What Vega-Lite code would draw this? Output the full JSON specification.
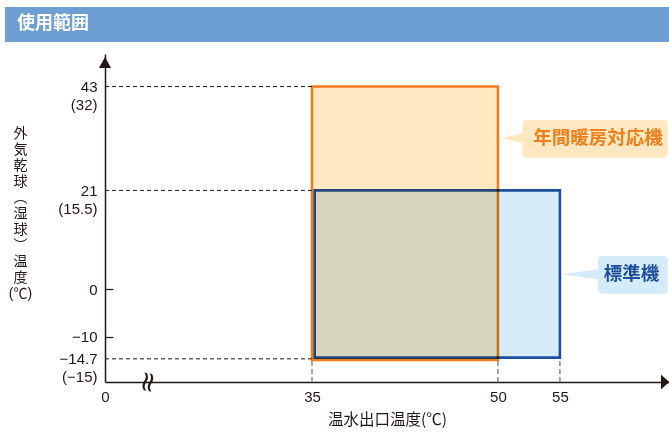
{
  "$schema": "https://vega.github.io/schema/vega-lite/v6.json",
  "padding": {"left": 5, "top": 6, "right": 0, "bottom": 0},
  "background": "white",
  "width": 564,
  "height": 328,
  "config": {
    "font": "Noto Sans CJK JP",
    "view": {"stroke": null}
  },
  "datasets": {
    "header": [
      {"title": "使用範囲", "x1": -16.9, "x2": 63.8, "y1": 52.45, "y2": 59.87, "tx": -14.88, "ty": 56.16}
    ],
    "ranges": [
      {"machine": "年間暖房対応機", "xmin": 35, "xmax": 50, "ymin": -14.7, "ymax": 43},
      {"machine": "標準機", "xmin": 35, "xmax": 55, "ymin": -14.7, "ymax": 21}
    ],
    "hlines": [
      {"y": 43, "x_from": 0, "x_to": 35},
      {"y": 21, "x_from": 0, "x_to": 35},
      {"y": -14.7, "x_from": 0, "x_to": 35}
    ],
    "vlines": [
      {"x": 35, "y_from": -19.6, "y_to": -14.7},
      {"x": 50, "y_from": -19.6, "y_to": -14.7},
      {"x": 55, "y_from": -19.6, "y_to": -14.7}
    ],
    "callouts": [
      {"label": "年間暖房対応機", "x1": 52.0, "x2": 63.7, "y1": 27.9, "y2": 35.9, "tx": 58.07, "ty": 32.0, "px": 51.13, "py": 32.06},
      {"label": "標準機", "x1": 58.07, "x2": 63.7, "y1": -0.9, "y2": 7.1, "tx": 60.77, "ty": 3.3, "px": 56.61, "py": 3.22}
    ],
    "arrows": [
      {"axis": "y", "x": 0, "y": 48.1},
      {"axis": "x", "x": 63.48, "y": -19.6}
    ],
    "breaks": [
      {"sym": "≈", "x": 7.1, "y": -19.6}
    ]
  },
  "layer": [
    {
      "data": {"name": "ranges"},
      "transform": [{"filter": "datum.machine == '年間暖房対応機'"}],
      "mark": {"type": "rect", "fill": "#fee8c2", "stroke": "#ef7d1b", "strokeWidth": 2.6, "yOffset": 1},
      "encoding": {
        "x": {
          "field": "xmin", "type": "quantitative",
          "scale": {"domain": [0, 35, 63.8], "range": [0, 207, 564], "nice": false, "zero": false},
          "axis": {
            "values": [0, 35, 50, 55], "ticks": false, "grid": false, "labelFlush": false,
            "labelPadding": 7, "labelFont": "Liberation Sans", "labelFontSize": 15, "labelColor": "#231815", "format": "d",
            "title": "温水出口温度(℃)", "titleFontSize": 15.5, "titleFontWeight": "normal", "titleColor": "#231815", "titlePadding": 8,
            "domainColor": "#231815", "domainWidth": 1.5
          }
        },
        "x2": {"field": "xmax"},
        "y": {
          "field": "ymin", "type": "quantitative",
          "scale": {"domain": [-19.6, 49.9], "nice": false, "zero": false},
          "axis": {
            "values": [43, 21, 0, -10, -14.7], "grid": false, "labelOverlap": false, "labelFlush": false,
            "labelExpr": "datum.value == 43 ? ['43', '(32)'] : datum.value == 21 ? ['21', '(15.5)'] : datum.value == -14.7 ? ['−14.7', '(−15)'] : datum.value == -10 ? '−10' : '0'",
            "labelFont": "Liberation Sans", "labelFontSize": 15, "labelColor": "#231815", "labelBaseline": "top", "labelOffset": -7, "labelLineHeight": 18,
            "labelPadding": 16, "tickSize": -8, "tickColor": "#231815", "tickWidth": 1.2,
            "tickOpacity": {"condition": {"test": "datum.value == 0 || datum.value == -10", "value": 1}, "value": 0},
            "domainColor": "#231815", "domainWidth": 1.5,
            "title": ["外", "気", "乾", "球", "︵", "湿", "球", "︶", "温", "度", "(℃)"],
            "titleAngle": 0, "titleAlign": "center", "titleBaseline": "top", "titleX": -85, "titleY": 72,
            "titleFont": "Liberation Sans, Noto Sans CJK JP",
            "titleFontSize": 14, "titleFontWeight": "normal", "titleColor": "#231815", "titleLineHeight": 16
          }
        },
        "y2": {"field": "ymax"}
      }
    },
    {
      "data": {"name": "header"},
      "mark": {"type": "rect", "fill": "#6d9fd5"},
      "encoding": {
        "x": {"field": "x1", "type": "quantitative"},
        "x2": {"field": "x2"},
        "y": {"field": "y1", "type": "quantitative"},
        "y2": {"field": "y2"}
      }
    },
    {
      "data": {"name": "header"},
      "mark": {"type": "text", "align": "left", "baseline": "middle", "fontSize": 18, "fontWeight": "bold", "color": "white"},
      "encoding": {
        "x": {"field": "tx", "type": "quantitative"},
        "y": {"field": "ty", "type": "quantitative"},
        "text": {"field": "title"}
      }
    },
    {
      "data": {"name": "ranges"},
      "transform": [{"filter": "datum.machine == '標準機'"}],
      "mark": {"type": "rect", "fill": "#d6ebf9", "stroke": "#1d4f9f", "strokeWidth": 2.6, "blend": "multiply", "xOffset": 2.7, "yOffset": -1.2},
      "encoding": {
        "x": {"field": "xmin", "type": "quantitative"},
        "x2": {"field": "xmax"},
        "y": {"field": "ymin", "type": "quantitative"},
        "y2": {"field": "ymax"}
      }
    },
    {
      "data": {"name": "vlines"},
      "mark": {"type": "rule", "color": "#8c8c8c", "strokeWidth": 1.5, "strokeDash": [5, 3]},
      "encoding": {
        "x": {"field": "x", "type": "quantitative"},
        "y": {"field": "y_from", "type": "quantitative"},
        "y2": {"field": "y_to"}
      }
    },
    {
      "data": {"name": "hlines"},
      "mark": {"type": "rule", "color": "#231815", "strokeWidth": 1, "strokeDash": [4, 3]},
      "encoding": {
        "y": {"field": "y", "type": "quantitative"},
        "x": {"field": "x_from", "type": "quantitative"},
        "x2": {"field": "x_to"}
      }
    },
    {
      "data": {"name": "callouts"},
      "mark": {"type": "rect", "cornerRadius": 4},
      "encoding": {
        "x": {"field": "x1", "type": "quantitative"},
        "x2": {"field": "x2"},
        "y": {"field": "y1", "type": "quantitative"},
        "y2": {"field": "y2"},
        "fill": {"field": "label", "type": "nominal", "scale": {"domain": ["年間暖房対応機", "標準機"], "range": ["#fee8c2", "#d6ebf9"]}, "legend": null}
      }
    },
    {
      "data": {"name": "callouts"},
      "transform": [{"filter": "datum.label == '年間暖房対応機'"}],
      "mark": {"type": "point", "filled": true, "opacity": 1, "color": "#fee8c2", "shape": "M1,-0.45L-1,0L1,0.45Z", "size": 484},
      "encoding": {
        "x": {"field": "px", "type": "quantitative"},
        "y": {"field": "py", "type": "quantitative"}
      }
    },
    {
      "data": {"name": "callouts"},
      "transform": [{"filter": "datum.label == '標準機'"}],
      "mark": {"type": "point", "filled": true, "opacity": 1, "color": "#d6ebf9", "shape": "M1,-0.28L-1,0L1,0.28Z", "size": 1296},
      "encoding": {
        "x": {"field": "px", "type": "quantitative"},
        "y": {"field": "py", "type": "quantitative"}
      }
    },
    {
      "data": {"name": "callouts"},
      "transform": [{"filter": "datum.label == '年間暖房対応機'"}],
      "mark": {"type": "text", "fontSize": 18.5, "fontWeight": "bold", "color": "#ee7d1a", "align": "center", "baseline": "middle"},
      "encoding": {
        "x": {"field": "tx", "type": "quantitative"},
        "y": {"field": "ty", "type": "quantitative"},
        "text": {"field": "label"}
      }
    },
    {
      "data": {"name": "callouts"},
      "transform": [{"filter": "datum.label == '標準機'"}],
      "mark": {"type": "text", "fontSize": 18.5, "fontWeight": "bold", "color": "#1b4f9d", "align": "center", "baseline": "middle"},
      "encoding": {
        "x": {"field": "tx", "type": "quantitative"},
        "y": {"field": "ty", "type": "quantitative"},
        "text": {"field": "label"}
      }
    },
    {
      "data": {"name": "arrows"},
      "transform": [{"filter": "datum.axis == 'y'"}],
      "mark": {"type": "point", "filled": true, "opacity": 1, "color": "#231815", "shape": "M-1,0.9L0,-0.9L1,0.9Z", "size": 144},
      "encoding": {
        "x": {"field": "x", "type": "quantitative"},
        "y": {"field": "y", "type": "quantitative"}
      }
    },
    {
      "data": {"name": "arrows"},
      "transform": [{"filter": "datum.axis == 'x'"}],
      "mark": {"type": "point", "filled": true, "opacity": 1, "color": "#231815", "shape": "M-0.55,-1L0.55,0L-0.55,1Z", "size": 225},
      "encoding": {
        "x": {"field": "x", "type": "quantitative"},
        "y": {"field": "y", "type": "quantitative"}
      }
    },
    {
      "data": {"name": "breaks"},
      "mark": {"type": "text", "fontSize": 28, "angle": 100, "color": "#231815", "align": "center", "baseline": "middle", "font": "DejaVu Sans"},
      "encoding": {
        "x": {"field": "x", "type": "quantitative"},
        "y": {"field": "y", "type": "quantitative"},
        "text": {"field": "sym"}
      }
    }
  ]
}
